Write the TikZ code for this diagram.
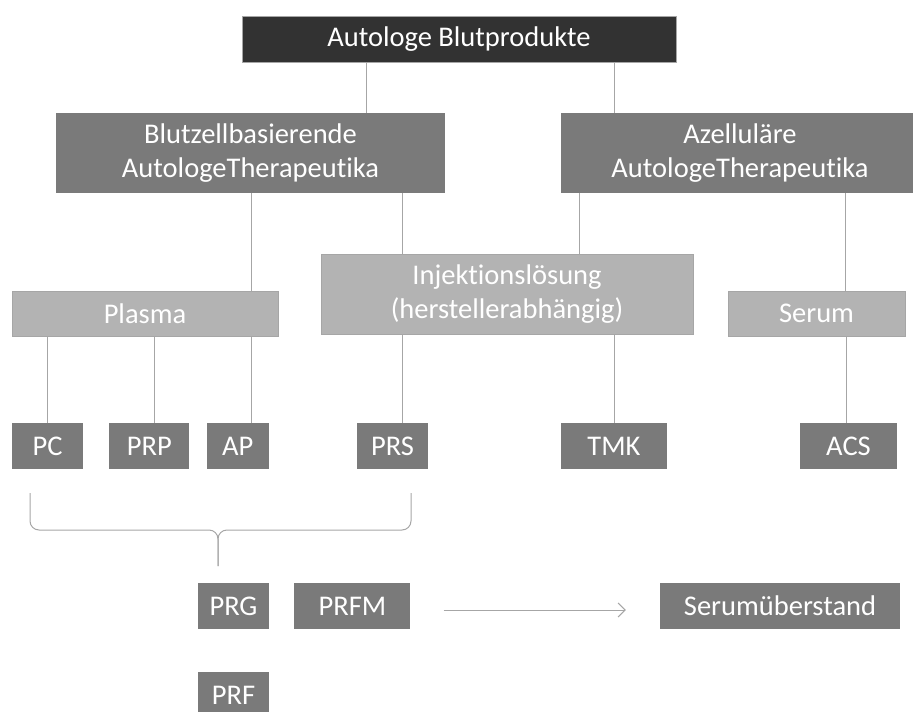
\documentclass[tikz,border=0pt]{standalone}
\usepackage{fontspec}
\setmainfont{Carlito}[Ligatures=NoCommon]
\usetikzlibrary{positioning,arrows.meta}

\definecolor{topgray}{HTML}{323232}
\definecolor{midgray}{HTML}{7A7A7A}
\definecolor{lightgray}{HTML}{B3B3B3}
\definecolor{linegray}{HTML}{A6A6A6}

\tikzset{
  root/.style={rectangle, fill=topgray, draw=linegray, text=white, minimum height=46pt, inner sep=0pt},
  group/.style={rectangle, fill=midgray, text=white, align=center, minimum height=80pt, inner sep=0pt},
  kind/.style={rectangle, fill=lightgray, draw=linegray, text=white, align=center, inner sep=0pt},
  product/.style={rectangle, fill=midgray, text=white, minimum height=46pt, inner sep=0pt},
  link/.style={draw=linegray, line width=1pt}
}

\begin{document}
\begin{tikzpicture}[x=1pt,y=-1pt,font=\fontsize{28.5}{34}\selectfont]
	\useasboundingbox (0,0) rectangle (913,712);
	
	% top level and the two families
	\node[root, minimum width=434pt] (blutprod) at (459,39) {Autologe Blutprodukte};
	\node[group, minimum width=389pt] (zell) at (250.5,153) {Blutzellbasierende\\AutologeTherapeutika};
	\node[group, minimum width=358pt] (azell) at (740,153) {Azelluläre\\AutologeTherapeutika};
	
	% carriers
	\node[kind, minimum width=266pt, minimum height=45pt] (plasma) at (145,313.5) {Plasma};
	\node[kind, minimum width=372pt, minimum height=80pt] (injekt) at (507,294) {Injektionslösung\\(herstellerabhängig)};
	\node[kind, minimum width=177pt, minimum height=45pt] (serum) at (816.5,313.5) {Serum};
	
	% products
	\node[product, minimum width=71pt] (pc) at (47.5,446) {PC};
	\node[product, minimum width=80pt] (prp) [right=26pt of pc] {PRP};
	\node[product, minimum width=62pt] (ap) [right=17pt of prp] {AP};
	\node[product, minimum width=71pt] (prs) at (392.5,446) {PRS};
	\node[product, minimum width=106pt] (tmk) at (614,446) {TMK};
	\node[product, minimum width=97pt] (acs) at (848.5,446) {ACS};
	
	% the second generation
	\node[product, minimum width=71pt] (prg) at (233.5,606) {PRG};
	\node[product, minimum width=116pt] (prfm) [right=25pt of prg] {PRFM};
	\node[product, minimum width=71pt] (prf) [below=43pt of prg] {PRF};
	\node[product, minimum width=240pt] (ueberstand) at (780,606) {Serumüberstand};
	
	% tree lines
	\draw[link] (366,0 |- blutprod.south) -- (366,0 |- zell.north);
	\draw[link] (614,0 |- blutprod.south) -- (614,0 |- azell.north);
	\draw[link] (251,0 |- zell.south) -- (251,0 |- plasma.north);
	\draw[link] (402,0 |- zell.south) -- (402,0 |- injekt.north);
	\draw[link] (579,0 |- azell.south) -- (579,0 |- injekt.north);
	\draw[link] (845,0 |- azell.south) -- (845,0 |- serum.north);
	\draw[link] (47,0 |- plasma.south) -- (47,0 |- pc.north);
	\draw[link] (154,0 |- plasma.south) -- (154,0 |- prp.north);
	\draw[link] (251,0 |- plasma.south) -- (251,0 |- ap.north);
	\draw[link] (402,0 |- injekt.south) -- (402,0 |- prs.north);
	\draw[link] (614,0 |- injekt.south) -- (614,0 |- tmk.north);
	\draw[link] (846,0 |- serum.south) -- (846,0 |- acs.north);
	
	% brace over PC ... PRS
	\draw[link, rounded corners=9pt] (30,493) -- (30,530) -- (218,530) -- (218,566);
	\draw[link, rounded corners=9pt] (411,493) -- (411,530) -- (218,530) -- (218,566);
	
	\draw[link, -{Straight Barb[length=7pt,width=14pt]}, shorten <=33pt, shorten >=34pt]
	 ([yshift=-4pt]prfm.east) -- ([yshift=-4pt]ueberstand.west);
	
\end{tikzpicture}
\end{document}
